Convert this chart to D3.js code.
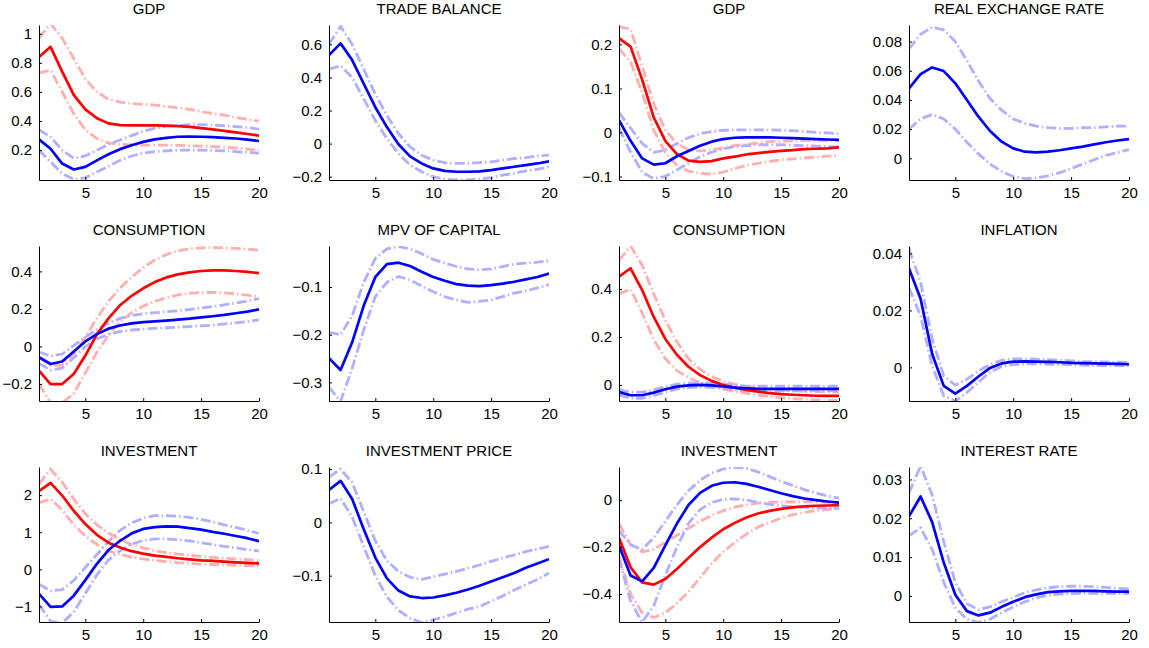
<!DOCTYPE html>
<html>
<head>
<meta charset="utf-8">
<script src="https://cdnjs.cloudflare.com/ajax/libs/d3/7.8.5/d3.min.js"></script>
<style>
  html, body { margin: 0; padding: 0; background: #fff; }
  svg { display: block; font-family: "Liberation Sans", Arial, sans-serif; }
</style>
</head>
<body>
<svg id="chart" width="1149" height="648"></svg>
<script>
// ---------------- DATA ----------------
const periods = d3.range(1, 21);
const xTicks = [5, 10, 15, 20];

const titles = ["GDP", "TRADE BALANCE", "GDP", "REAL EXCHANGE RATE",
                "CONSUMPTION", "MPV OF CAPITAL", "CONSUMPTION", "INFLATION",
                "INVESTMENT", "INVESTMENT PRICE", "INVESTMENT", "INTEREST RATE"];

const yDomains = [[-0.005, 1.06], [-0.22, 0.717], [-0.108, 0.244], [-0.0149, 0.0914],
                  [-0.29, 0.535], [-0.339, -0.014], [-0.067, 0.58], [-0.0118, 0.0426],
                  [-1.42, 2.76], [-0.187, 0.104], [-0.519, 0.141], [-0.0067, 0.0332]];

const yTicks = [[0.2, 0.4, 0.6, 0.8, 1], [-0.2, 0, 0.2, 0.4, 0.6], [-0.1, 0, 0.1, 0.2], [0, 0.02, 0.04, 0.06, 0.08],
                [-0.2, 0, 0.2, 0.4], [-0.3, -0.2, -0.1], [0, 0.2, 0.4], [0, 0.02, 0.04],
                [-1, 0, 1, 2], [-0.1, 0, 0.1], [-0.4, -0.2, 0], [0, 0.01, 0.02, 0.03]];

// Panel 1: GDP
const p1RedMid  = [0.84, 0.91, 0.74, 0.58, 0.48, 0.42, 0.384, 0.372, 0.37, 0.37, 0.37, 0.368, 0.365, 0.36, 0.352, 0.343, 0.333, 0.322, 0.311, 0.30];
const p1RedHi   = [0.97, 1.07, 0.97, 0.83, 0.69, 0.60, 0.55, 0.53, 0.52, 0.515, 0.51, 0.50, 0.49, 0.48, 0.465, 0.452, 0.44, 0.425, 0.412, 0.40];
const p1RedLo   = [0.73, 0.75, 0.60, 0.45, 0.34, 0.28, 0.25, 0.24, 0.236, 0.235, 0.235, 0.235, 0.233, 0.23, 0.228, 0.225, 0.22, 0.215, 0.207, 0.20];
const p1BlueMid = [0.274, 0.21, 0.108, 0.067, 0.085, 0.13, 0.172, 0.207, 0.234, 0.257, 0.274, 0.285, 0.292, 0.293, 0.292, 0.29, 0.285, 0.28, 0.272, 0.263];
const p1BlueHi  = [0.34, 0.29, 0.20, 0.145, 0.16, 0.20, 0.24, 0.27, 0.30, 0.33, 0.35, 0.365, 0.37, 0.375, 0.375, 0.372, 0.368, 0.362, 0.355, 0.345];
const p1BlueLo  = [0.20, 0.12, 0.04, 0.0, 0.01, 0.05, 0.09, 0.13, 0.16, 0.18, 0.19, 0.195, 0.20, 0.20, 0.20, 0.198, 0.195, 0.19, 0.185, 0.18];

// Panel 2: TRADE BALANCE
const p2BlueMid = [0.535, 0.606, 0.505, 0.362, 0.22, 0.10, -0.004, -0.077, -0.12, -0.15, -0.165, -0.17, -0.17, -0.168, -0.16, -0.15, -0.14, -0.13, -0.12, -0.107];
const p2BlueHi  = [0.60, 0.71, 0.60, 0.45, 0.30, 0.17, 0.06, -0.02, -0.07, -0.10, -0.115, -0.12, -0.12, -0.115, -0.11, -0.10, -0.09, -0.085, -0.075, -0.07];
const p2BlueLo  = [0.45, 0.47, 0.40, 0.27, 0.14, 0.03, -0.06, -0.13, -0.17, -0.20, -0.215, -0.22, -0.22, -0.215, -0.205, -0.19, -0.18, -0.165, -0.155, -0.14];

// Panel 3: GDP
const p3RedMid  = [0.214, 0.195, 0.12, 0.034, -0.019, -0.049, -0.064, -0.067, -0.065, -0.059, -0.055, -0.05, -0.047, -0.044, -0.042, -0.04, -0.038, -0.037, -0.036, -0.034];
const p3RedHi   = [0.24, 0.235, 0.15, 0.065, 0.005, -0.025, -0.04, -0.042, -0.04, -0.035, -0.03, -0.027, -0.024, -0.021, -0.02, -0.019, -0.018, -0.018, -0.018, -0.018];
const p3RedLo   = [0.19, 0.16, 0.09, 0.005, -0.045, -0.075, -0.088, -0.093, -0.095, -0.09, -0.082, -0.075, -0.07, -0.066, -0.062, -0.06, -0.058, -0.056, -0.054, -0.052];
const p3BlueMid = [0.028, -0.019, -0.059, -0.073, -0.07, -0.054, -0.042, -0.03, -0.021, -0.015, -0.012, -0.011, -0.011, -0.011, -0.012, -0.013, -0.014, -0.015, -0.016, -0.017];
const p3BlueHi  = [0.045, 0.01, -0.025, -0.045, -0.04, -0.025, -0.012, -0.003, 0.002, 0.005, 0.006, 0.006, 0.006, 0.006, 0.005, 0.004, 0.002, 0.0, -0.001, -0.003];
const p3BlueLo  = [0.01, -0.045, -0.09, -0.105, -0.10, -0.085, -0.07, -0.055, -0.045, -0.037, -0.032, -0.03, -0.028, -0.028, -0.028, -0.029, -0.03, -0.031, -0.032, -0.033];

// Panel 4: REAL EXCHANGE RATE
const p4BlueMid = [0.048, 0.0577, 0.0623, 0.0598, 0.0514, 0.040, 0.0285, 0.0187, 0.0114, 0.0068, 0.0045, 0.0041, 0.0045, 0.0055, 0.0068, 0.008, 0.0095, 0.011, 0.0122, 0.0132];
const p4BlueHi  = [0.075, 0.085, 0.09, 0.088, 0.08, 0.067, 0.053, 0.041, 0.033, 0.027, 0.024, 0.022, 0.021, 0.0205, 0.0205, 0.021, 0.021, 0.0215, 0.022, 0.022];
const p4BlueLo  = [0.02, 0.027, 0.03, 0.027, 0.02, 0.011, 0.003, -0.004, -0.009, -0.0125, -0.014, -0.0135, -0.012, -0.01, -0.007, -0.004, -0.001, 0.002, 0.004, 0.006];

// Panel 5: CONSUMPTION
const p5RedMid  = [-0.129, -0.20, -0.20, -0.146, -0.048, 0.065, 0.15, 0.22, 0.27, 0.31, 0.343, 0.368, 0.384, 0.395, 0.402, 0.405, 0.405, 0.402, 0.397, 0.391];
const p5RedHi   = [-0.06, -0.10, -0.10, -0.04, 0.05, 0.15, 0.24, 0.31, 0.37, 0.42, 0.46, 0.49, 0.51, 0.52, 0.525, 0.527, 0.525, 0.522, 0.518, 0.513];
const p5RedLo   = [-0.20, -0.30, -0.30, -0.25, -0.14, -0.03, 0.06, 0.13, 0.18, 0.215, 0.24, 0.26, 0.275, 0.283, 0.287, 0.288, 0.285, 0.28, 0.273, 0.265];
const p5BlueMid = [-0.057, -0.093, -0.08, -0.027, 0.027, 0.066, 0.095, 0.112, 0.123, 0.13, 0.134, 0.138, 0.143, 0.148, 0.155, 0.161, 0.168, 0.177, 0.186, 0.198];
const p5BlueHi  = [-0.03, -0.05, -0.04, 0.005, 0.05, 0.09, 0.125, 0.15, 0.165, 0.175, 0.18, 0.185, 0.19, 0.197, 0.205, 0.213, 0.222, 0.232, 0.242, 0.255];
const p5BlueLo  = [-0.09, -0.125, -0.115, -0.06, 0.0, 0.04, 0.065, 0.08, 0.088, 0.093, 0.097, 0.10, 0.103, 0.106, 0.11, 0.114, 0.12, 0.126, 0.133, 0.142];

// Panel 6: MPV OF CAPITAL
const p6BlueMid = [-0.249, -0.274, -0.216, -0.139, -0.079, -0.052, -0.049, -0.056, -0.068, -0.079, -0.087, -0.094, -0.097, -0.098, -0.096, -0.093, -0.089, -0.084, -0.079, -0.072];
const p6BlueHi  = [-0.195, -0.20, -0.16, -0.09, -0.04, -0.02, -0.015, -0.02, -0.03, -0.042, -0.05, -0.057, -0.062, -0.064, -0.062, -0.057, -0.052, -0.05, -0.048, -0.045];
const p6BlueLo  = [-0.31, -0.34, -0.27, -0.19, -0.12, -0.09, -0.078, -0.085, -0.098, -0.11, -0.12, -0.127, -0.132, -0.13, -0.127, -0.12, -0.113, -0.108, -0.102, -0.095];

// Panel 7: CONSUMPTION
const p7RedMid  = [0.452, 0.487, 0.396, 0.284, 0.192, 0.126, 0.076, 0.041, 0.017, 0.0, -0.011, -0.021, -0.028, -0.034, -0.038, -0.041, -0.043, -0.045, -0.046, -0.046];
const p7RedHi   = [0.52, 0.58, 0.50, 0.38, 0.27, 0.18, 0.11, 0.065, 0.035, 0.015, 0.003, -0.006, -0.012, -0.017, -0.021, -0.024, -0.026, -0.028, -0.029, -0.03];
const p7RedLo   = [0.38, 0.40, 0.30, 0.19, 0.11, 0.06, 0.03, 0.01, -0.005, -0.017, -0.027, -0.035, -0.042, -0.048, -0.053, -0.057, -0.06, -0.062, -0.064, -0.065];
const p7BlueMid = [-0.03, -0.043, -0.043, -0.032, -0.018, -0.007, -0.002, 0.0, -0.002, -0.006, -0.011, -0.014, -0.016, -0.016, -0.016, -0.016, -0.016, -0.016, -0.016, -0.016];
const p7BlueHi  = [-0.02, -0.03, -0.03, -0.02, -0.007, 0.003, 0.008, 0.009, 0.007, 0.003, -0.002, -0.005, -0.005, -0.005, -0.005, -0.005, -0.005, -0.005, -0.005, -0.005];
const p7BlueLo  = [-0.042, -0.055, -0.056, -0.045, -0.03, -0.017, -0.011, -0.009, -0.01, -0.014, -0.019, -0.025, -0.025, -0.025, -0.025, -0.025, -0.025, -0.025, -0.025, -0.025];

// Panel 8: INFLATION
const p8BlueMid = [0.0347, 0.0241, 0.0047, -0.0065, -0.0092, -0.0065, -0.0032, -0.0002, 0.0014, 0.002, 0.0021, 0.002, 0.0019, 0.0018, 0.0016, 0.0015, 0.0014, 0.0013, 0.0012, 0.0011];
const p8BlueHi  = [0.0415, 0.030, 0.010, -0.003, -0.0062, -0.0042, -0.0012, 0.001, 0.0025, 0.003, 0.003, 0.0029, 0.0027, 0.0025, 0.0023, 0.0021, 0.002, 0.0019, 0.0018, 0.0017];
const p8BlueLo  = [0.028, 0.018, 0.0005, -0.010, -0.0118, -0.0088, -0.0052, -0.0017, 0.0003, 0.001, 0.0012, 0.0012, 0.0011, 0.001, 0.0009, 0.0008, 0.0007, 0.0006, 0.0006, 0.0005];

// Panel 9: INVESTMENT
const p9RedMid  = [2.11, 2.33, 1.99, 1.58, 1.22, 0.93, 0.72, 0.59, 0.49, 0.425, 0.37, 0.335, 0.30, 0.27, 0.244, 0.226, 0.208, 0.19, 0.172, 0.16];
const p9RedHi   = [2.30, 2.70, 2.35, 1.90, 1.50, 1.20, 0.98, 0.80, 0.67, 0.58, 0.50, 0.45, 0.41, 0.38, 0.35, 0.32, 0.30, 0.28, 0.26, 0.24];
const p9RedLo   = [1.80, 1.90, 1.60, 1.20, 0.90, 0.67, 0.50, 0.40, 0.33, 0.28, 0.24, 0.21, 0.18, 0.16, 0.14, 0.13, 0.12, 0.11, 0.10, 0.09];
const p9BlueMid = [-0.66, -1.01, -1.0, -0.71, -0.29, 0.15, 0.52, 0.77, 0.97, 1.09, 1.14, 1.16, 1.15, 1.11, 1.07, 1.01, 0.96, 0.90, 0.84, 0.76];
const p9BlueHi  = [-0.40, -0.58, -0.55, -0.30, 0.05, 0.40, 0.75, 1.05, 1.25, 1.38, 1.45, 1.45, 1.43, 1.40, 1.35, 1.28, 1.20, 1.13, 1.05, 0.97];
const p9BlueLo  = [-0.95, -1.40, -1.45, -1.15, -0.65, -0.15, 0.25, 0.50, 0.68, 0.78, 0.82, 0.82, 0.80, 0.77, 0.72, 0.67, 0.62, 0.58, 0.53, 0.50];

// Panel 10: INVESTMENT PRICE
const p10BlueMid = [0.061, 0.078, 0.044, -0.013, -0.066, -0.105, -0.128, -0.139, -0.142, -0.141, -0.137, -0.132, -0.126, -0.119, -0.111, -0.103, -0.095, -0.085, -0.077, -0.069];
const p10BlueHi  = [0.085, 0.10, 0.075, 0.02, -0.035, -0.072, -0.092, -0.103, -0.107, -0.102, -0.097, -0.092, -0.086, -0.08, -0.073, -0.067, -0.061, -0.055, -0.05, -0.045];
const p10BlueLo  = [0.035, 0.045, 0.01, -0.045, -0.10, -0.14, -0.165, -0.18, -0.188, -0.183, -0.177, -0.17, -0.163, -0.158, -0.148, -0.138, -0.127, -0.117, -0.107, -0.095];

// Panel 11: INVESTMENT
const p11RedMid  = [-0.16, -0.286, -0.35, -0.36, -0.336, -0.293, -0.246, -0.20, -0.16, -0.124, -0.097, -0.074, -0.057, -0.046, -0.037, -0.031, -0.027, -0.024, -0.023, -0.021];
const p11RedHi   = [-0.10, -0.19, -0.22, -0.21, -0.18, -0.15, -0.12, -0.09, -0.065, -0.045, -0.03, -0.02, -0.013, -0.01, -0.008, -0.007, -0.007, -0.008, -0.01, -0.012];
const p11RedLo   = [-0.24, -0.40, -0.48, -0.50, -0.48, -0.44, -0.39, -0.33, -0.27, -0.22, -0.18, -0.145, -0.115, -0.095, -0.077, -0.062, -0.052, -0.045, -0.04, -0.035];
const p11BlueMid = [-0.193, -0.321, -0.346, -0.289, -0.193, -0.10, -0.021, 0.031, 0.061, 0.074, 0.076, 0.069, 0.057, 0.043, 0.029, 0.017, 0.007, 0.0, -0.006, -0.011];
const p11BlueHi  = [-0.13, -0.19, -0.21, -0.16, -0.09, -0.02, 0.04, 0.085, 0.115, 0.132, 0.14, 0.135, 0.12, 0.10, 0.08, 0.062, 0.045, 0.03, 0.018, 0.008];
const p11BlueLo  = [-0.25, -0.43, -0.52, -0.45, -0.32, -0.20, -0.10, -0.04, -0.01, 0.003, 0.005, 0.0, -0.01, -0.018, -0.024, -0.028, -0.031, -0.033, -0.034, -0.035];

// Panel 12: INTEREST RATE
const p12BlueMid = [0.0205, 0.0256, 0.019, 0.0086, 0.0003, -0.0039, -0.005, -0.0043, -0.0028, -0.0015, -0.0003, 0.0004, 0.001, 0.0012, 0.0013, 0.0013, 0.0013, 0.0012, 0.0011, 0.0011];
const p12BlueHi  = [0.0265, 0.0335, 0.026, 0.014, 0.0035, -0.002, -0.0035, -0.0028, -0.0015, -0.0003, 0.0008, 0.0016, 0.0021, 0.0024, 0.0025, 0.0025, 0.0024, 0.0022, 0.002, 0.0018];
const p12BlueLo  = [0.0155, 0.0175, 0.012, 0.0035, -0.003, -0.006, -0.0068, -0.006, -0.0043, -0.0028, -0.0015, -0.0005, 0.0002, 0.0005, 0.0006, 0.0007, 0.0007, 0.0007, 0.0007, 0.0006];

// Series per panel: red [mid, hi, lo] and blue [mid, hi, lo]; null if absent
const redSeries = [[p1RedMid, p1RedHi, p1RedLo], null, [p3RedMid, p3RedHi, p3RedLo], null,
                   [p5RedMid, p5RedHi, p5RedLo], null, [p7RedMid, p7RedHi, p7RedLo], null,
                   [p9RedMid, p9RedHi, p9RedLo], null, [p11RedMid, p11RedHi, p11RedLo], null];
const blueSeries = [[p1BlueMid, p1BlueHi, p1BlueLo], [p2BlueMid, p2BlueHi, p2BlueLo], [p3BlueMid, p3BlueHi, p3BlueLo], [p4BlueMid, p4BlueHi, p4BlueLo],
                    [p5BlueMid, p5BlueHi, p5BlueLo], [p6BlueMid, p6BlueHi, p6BlueLo], [p7BlueMid, p7BlueHi, p7BlueLo], [p8BlueMid, p8BlueHi, p8BlueLo],
                    [p9BlueMid, p9BlueHi, p9BlueLo], [p10BlueMid, p10BlueHi, p10BlueLo], [p11BlueMid, p11BlueHi, p11BlueLo], [p12BlueMid, p12BlueHi, p12BlueLo]];

// ---------------- LAYOUT / STYLE ----------------
const svg = d3.select("#chart");
const W = 220, H = 155;
const left0 = 39, colStep = 290;
const top0 = 25, rowStep = 221;
const fontSize = 15;
const colors = { red: "#ff0000", blue: "#0000ff", redBand: "#ffb0b0", blueBand: "#b0b0ff" };

function fmt(v) {
  const r = +v.toFixed(6);
  if (r === 0) return "0";
  return (r < 0 ? "\u2212" : "") + String(Math.abs(r));
}

titles.forEach((title, i) => {
  const row = Math.floor(i / 4), col = i % 4;
  const gx = left0 + col * colStep;
  const gy = top0 + row * rowStep;
  const g = svg.append("g").attr("transform", `translate(${gx},${gy})`);

  const x = d3.scaleLinear().domain([1, 20]).range([0, W]);
  const y = d3.scaleLinear().domain(yDomains[i]).range([H, 0]);

  const clipId = "clip" + i;
  g.append("clipPath").attr("id", clipId)
    .append("rect").attr("x", 0).attr("y", 0).attr("width", W).attr("height", H);

  const plot = g.append("g").attr("clip-path", `url(#${clipId})`);
  const line = d3.line().x((d, k) => x(periods[k])).y(d => y(d));

  const bands = [];
  if (redSeries[i]) bands.push({ data: redSeries[i][1], c: colors.redBand }, { data: redSeries[i][2], c: colors.redBand });
  if (blueSeries[i]) bands.push({ data: blueSeries[i][1], c: colors.blueBand }, { data: blueSeries[i][2], c: colors.blueBand });
  bands.forEach(b => {
    plot.append("path").attr("d", line(b.data))
      .attr("fill", "none").attr("stroke", b.c).attr("stroke-width", 2.8)
      .attr("stroke-dasharray", "10,3,1.5,3");
  });
  if (redSeries[i]) {
    plot.append("path").attr("d", line(redSeries[i][0]))
      .attr("fill", "none").attr("stroke", colors.red).attr("stroke-width", 2.7)
      .attr("stroke-linejoin", "round");
  }
  if (blueSeries[i]) {
    plot.append("path").attr("d", line(blueSeries[i][0]))
      .attr("fill", "none").attr("stroke", colors.blue).attr("stroke-width", 2.7)
      .attr("stroke-linejoin", "round");
  }

  // Axes (MATLAB style: left + bottom, inward ticks)
  const yAxis = d3.axisLeft(y).tickValues(yTicks[i]).tickFormat(fmt).tickSizeInner(-3).tickSizeOuter(0).tickPadding(7);
  const xAxis = d3.axisBottom(x).tickValues(xTicks).tickFormat(d3.format("d")).tickSizeInner(-3).tickSizeOuter(0).tickPadding(7);

  const ya = g.append("g").call(yAxis);
  const xa = g.append("g").attr("transform", `translate(0,${H})`).call(xAxis);
  [ya, xa].forEach(a => {
    a.select(".domain").attr("stroke", "#000").attr("stroke-width", 1);
    a.selectAll(".tick line").attr("stroke", "#000");
    a.selectAll(".tick text").attr("fill", "#000").attr("font-size", fontSize)
      .attr("font-family", "Liberation Sans, Arial, sans-serif");
  });
  xa.selectAll(".tick text").attr("dy", "0.71em");

  g.append("text").attr("x", W / 2).attr("y", -11)
    .attr("text-anchor", "middle").attr("font-size", fontSize).attr("fill", "#000")
    .text(title);
});
</script>
</body>
</html>
